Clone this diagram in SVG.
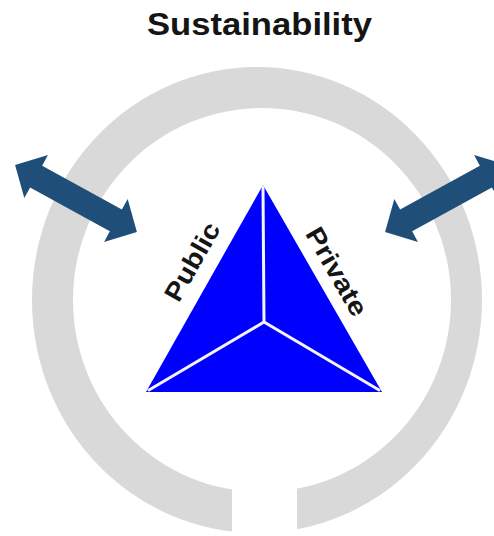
<svg xmlns="http://www.w3.org/2000/svg" width="494" height="536" viewBox="0 0 494 536">
  <style>
    .title { font-family: "Liberation Sans", Arial, sans-serif; font-weight: bold; font-size: 32px; fill: #151515; }
    .label { font-family: "Liberation Sans", Arial, sans-serif; font-weight: bold; font-size: 26px; fill: #151515; }
    .ring { fill: #d9d9d9; fill-rule: evenodd; }
    .arrow { fill: #1f4e79; }
    .tri { fill: #0000ff; }
    .split { stroke: #f4f4ff; stroke-width: 3; fill: none; stroke-linecap: round; }
  </style>
  <defs>
    <!-- opening at the bottom of the ring -->
    <mask id="ringGap">
      <rect x="0" y="0" width="494" height="536" fill="#fff"/>
      <rect x="232" y="420" width="65" height="120" fill="#000"/>
    </mask>
    <!-- double-headed arrow drawn along the x axis, centred on the origin -->
    <polygon id="dblArrow" points="-69.5,0 -45.5,-24.5 -45.5,-12.5 45.5,-12.5 45.5,-24.5 69.5,0 45.5,24.5 45.5,12.5 -45.5,12.5 -45.5,24.5"/>
  </defs>

  <rect width="494" height="536" fill="#fff"/>

  <g id="title">
    <text class="title" x="259.5" y="35" text-anchor="middle" textLength="225" lengthAdjust="spacingAndGlyphs">Sustainability</text>
  </g>

  <g id="ring">
    <path class="ring" mask="url(#ringGap)" d="M32,300 a225,233 0 1,0 450,0 a225,233 0 1,0 -450,0 Z M73,300 a189,192 0 1,0 378,0 a189,192 0 1,0 -378,0 Z"/>
  </g>

  <g id="connectors">
    <use href="#dblArrow" class="arrow" transform="translate(76,198.5) rotate(28.8)"/>
    <use href="#dblArrow" class="arrow" transform="translate(446,198.5) rotate(-28.8)"/>
  </g>

  <g id="triangle">
    <polygon class="tri" points="263,185 382,392 146,392"/>
    <polyline class="split" points="263,187 264,322"/>
    <polyline class="split" points="149,390 264,322 379,390"/>
  </g>

  <g id="public">
    <text class="label" x="0" y="0" text-anchor="middle" textLength="86" lengthAdjust="spacingAndGlyphs" transform="translate(200,266) rotate(-60.5)">Public</text>
  </g>

  <g id="private">
    <text class="label" x="0" y="0" text-anchor="middle" textLength="98" lengthAdjust="spacingAndGlyphs" transform="translate(329,276) rotate(60.2)">Private</text>
  </g>
</svg>
